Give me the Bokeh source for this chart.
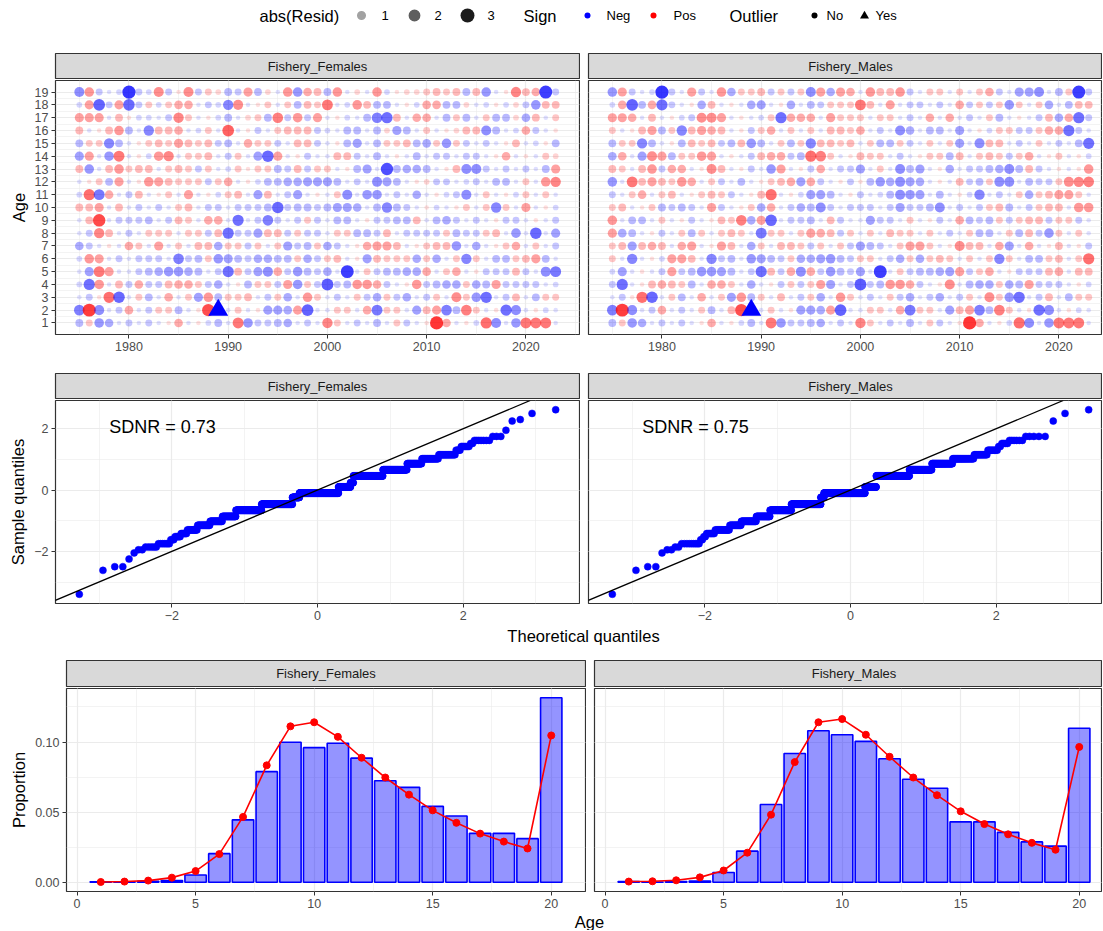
import numpy as np
from statistics import NormalDist
from bokeh.plotting import figure
from bokeh.layouts import column, row
from bokeh.models import (ColumnDataSource, Range1d, FixedTicker, SingleIntervalTicker,
                          Slope, CustomJSTickFormatter, PrintfTickFormatter)
from bokeh.core.properties import value
from bokeh.embed import file_html
from bokeh.resources import INLINE

# ---------------------------------------------------------------- data
PANELS = ["Fishery_Females", "Fishery_Males"]
YEARS = list(range(1975, 2024))
AGES = list(range(1, 20))

# Pearson residuals, one string per age (1..19),
# one character per year (1975..2023).  lowercase = negative, uppercase = positive;
# the letter is the bubble-size class, its magnitude is
# CODE_MAGNITUDE[class] (classes calibrated against the Q-Q panels of the picture).
CODE_MAGNITUDE = [0.10, 0.24, 0.46, 0.66, 0.86, 1.02, 1.15, 1.30, 1.42, 1.52,
                  1.62, 1.75, 1.86, 1.95, 2.05, 2.15, 2.25, 2.30, 2.50, 2.62,
                  2.70, 2.80, 2.90, 3.00, 3.20, 3.40]
FEMALE_RESID = [
    "dCgeacacaAEaAbdaKgccdeaca" + "ICacadaCcaATEaAbLhagKKKa",  # 1
    "jShacEacCCdaAQzaCaAffeFna" + "aCCaEkCCafDFjdJCaAlhaAba",  # 2
    "acALmaCdaEaCfGdCCDacCeaGC" + "acaCceCceacCaHCglacDadCC",  # 3
    "blGaDcEccDEECceaAdCCcFgCc" + "ocdGGEcaAGcdeeCedFccccab",  # 4
    "afKFaacdeggedaclDcfhEcgdc" + "easaCcddeeEaCEaAcccDcahk",  # 5
    "bGFacacccajcdCgfdceeddCec" + "CDaAfDCCCeCeaCiCaddCDFda",  # 6
    "ecaAaECaFaCaDDeCCcCaCfcdC" + "ecaAEFFDaACDDgaeaACEaCac",  # 7
    "acIDacaCCCaCCcDlccfDDcCcc" + "aCCddcDaccccCdccCDagamaf",  # 8
    "aDRacccdacDCaEEalacjcacCc" + "addaAccddDadecacaAccaAac",  # 9
    "DDFaDacacaCDaccacccdmcddc" + "dffeadidcaAbaACaCiCaFaAb",  # 10
    "bLkEacDaACaFaAbCDafDacfaA" + "aChaggacaeaAbchaCaAbCaCa",  # 11
    "aACdFaAGFDCCCcCEaAbddeeff" + "fdacahfdaABccabcaddaCaGI",  # 12
    "DgaDGCDDaCDCcCabCACCdcDcC" + "CaAdfaqdeedaADhhcacacadF",  # 13
    "fFagKaAbGIaCCDacCafmFaAca" + "aDDcadaAadaccaccaAEaAaCB",  # 14
    "dCCidaACDCFDCDcdaECCcaDDc" + "aAdfadCCDdeCgCcacaADabAd",  # 15
    "DaADGdaiDDEabCaNaAcaCDDDc" + "baddadBfdaCaABDDhdabEcaA",  # 16
    "FFFaDAbbacICaAbdaBCdJcGcF" + "aAbadjlDaEEadCdaCddBeDaC",  # 17
    "bFncFmcCbCEEacbiHaACaCdDC" + "KabGDddaAbEEddBabAbBcgDD",  # 18
    "hGcabtcbHcAHcCBdcFdBaGgED" + "dGaBaGbABBCDCDdDgaAIDEsc",  # 19
]
MALE_RESID = [
    "dCgeacacaAEaAbdaKgccdeaca" + "ICacadaCcaATEaAbLhagKKKa",  # 1
    "jShacEacaCdaDQzaCaAffeFna" + "aCCaEkCCafDFjdJCaAlhaAba",  # 2
    "acALmaCdaEaCfGdCaDacCeaGC" + "acaCceaceacCaHCglacDadCC",  # 3
    "claADEDCdaEECaeaAcCcCFfac" + "ocdGGEcaAHadeeCedFcccaAb",  # 4
    "bfaAacFcdggfdaclDcEhEcgdc" + "fasaCcddefFcCEaAcccDEaDD",  # 5
    "CaiaAbFFDaicdagfdcCeefgdc" + "CCaceCeCDCaCaCiCaddCDaCL",  # 6
    "CDfDEDaEFaAFDaeCaDDCcCaCc" + "fdcaCFFCaAHDDaEfaEaADaAc",  # 7
    "FedaAcaCdCaCDCakCCaCFEDcC" + "aCaDCCaCacaCddaCdDcgCaCa",  # 8
    "GaddaCaAcaADCJeFmaccdaDca" + "afccaCaAcaEdcdCcCDDcCCca",  # 9
    "CDaACdcdcaFcaACeEacedhcac" + "ccacfccdhacacCDdacCDDaGG",  # 10
    "caCEaCDaACDCcaADLaAbffdaA" + "cabdhgfadaAbiacaCeCDFFCa",  # 11
    "gaKDFDCGEaCcadaACDEfEcaAc" + "AdgehfeaAaDcdChhadccCHIJ",  # 12
    "DCaDGcEEaAHDaAcagFaAcEacc" + "faCahdfaAeaccdehdDcaAaAG",  # 13
    "eEafHFdCCGFaAacDEEcdLJCaA" + "DCCacaACCdDaCDCcCEaACaAb",  # 14
    "dCCidaAdDCDcdDgdaCdCiDDCD" + "aCddCcaCaCfahDDacaCacadl",  # 15
    "CaADFdCiDFEDaAcCEaCaCaDDC" + "EacaheaddafaAbCCccCEElca",  # 16
    "FFEaDaAbcHHFaAabClEEEaFCC" + "CaCCacaEaEacaCdaAacDeElc",  # 17
    "bEndElcaAeDaAaefaAeadcCCC" + "KDaFaccacaEcCcCgCaCeadDD",  # 18
    "gFcabtcaFcaGeCCDcCcChFeFE" + "aGDDGcaCCaCaCEcaffhadCsc",  # 19
]
SDNR = [0.73, 0.75]

COMP_AGES = list(range(1, 21))
FEMALE_OBS = [0.0003, 0.0003, 0.0007, 0.0012, 0.0052, 0.0204, 0.0445, 0.0789, 0.0998, 0.0960,
              0.0991, 0.0885, 0.0724, 0.0677, 0.0541, 0.0473, 0.0349, 0.0349, 0.0311, 0.1316]
FEMALE_EXP = [0.0002, 0.0005, 0.0012, 0.0033, 0.0080, 0.0201, 0.0466, 0.0834, 0.1112, 0.1141,
              0.1037, 0.0888, 0.0747, 0.0625, 0.0513, 0.0424, 0.0347, 0.0290, 0.0241, 0.1047]
MALE_OBS = [0.0005, 0.0002, 0.0005, 0.0009, 0.0070, 0.0222, 0.0555, 0.0918, 0.1080, 0.1052,
            0.1005, 0.0881, 0.0735, 0.0670, 0.0431, 0.0431, 0.0356, 0.0288, 0.0258, 0.1098]
MALE_EXP = [0.0005, 0.0007, 0.0014, 0.0035, 0.0084, 0.0211, 0.0482, 0.0857, 0.1141, 0.1164,
            0.1052, 0.0895, 0.0747, 0.0621, 0.0506, 0.0415, 0.0342, 0.0281, 0.0232, 0.0965]

LEGEND_SIZES = [1, 2, 3]

# ---------------------------------------------------------------- style / geometry
FONT = "Liberation Sans"
NEG, POS = "#0000FF", "#FF0000"
BORDER = "#333333"
GRID = "#EBEBEB"
STRIP_FILL = "#D9D9D9"
BUBBLE_K = 2.45
TOTAL_W = 1102

FW_F, FW_M = 524, 513          # rows 1-2 frame widths
FW_F3, FW_M3 = 519, 507        # row 3 frame widths
LEFT12, LEFT3, GAP = 55, 66, 8


def decode(rows):
    xs, ys, vs = [], [], []
    for age, s in zip(AGES, rows):
        s = (s + "a" * len(YEARS))[:len(YEARS)]
        for yr, ch in zip(YEARS, s):
            mag = CODE_MAGNITUDE[ord(ch.lower()) - 97]
            xs.append(yr)
            ys.append(age)
            vs.append(-mag if ch.islower() else mag)
    return np.array(xs, float), np.array(ys, float), np.array(vs, float)


RES = [decode(FEMALE_RESID), decode(MALE_RESID)]
AMAX = max(np.abs(r[2]).max() for r in RES)


def size_for(a):
    return BUBBLE_K * (1 + 5 * np.sqrt(np.asarray(a, float) / AMAX))


def alpha_for(a):
    return np.clip(0.1 + 0.9 * np.asarray(a, float) / AMAX, 0, 1)


def expand(lo, hi, f=0.05):
    r = hi - lo
    return lo - f * r, hi + f * r


def style_axes(p):
    for ax in p.axis:
        ax.axis_line_color = None
        ax.major_tick_line_color = BORDER
        ax.major_tick_in = 0
        ax.major_tick_out = 4
        ax.minor_tick_line_color = None
        ax.major_label_text_font = FONT
        ax.major_label_text_font_size = "12.5px"
        ax.major_label_text_color = "#4D4D4D"
        ax.major_label_standoff = 3
        ax.axis_label_text_font = FONT
        ax.axis_label_text_font_size = "16.5px"
        ax.axis_label_text_font_style = "normal"
        ax.axis_label_text_color = "black"
        ax.axis_label_standoff = 4


def make_fig(fw, fh, left, xr, yr, top, bottom, xt, yt, yaxis=True, ylabel=None):
    p = figure(frame_width=fw, frame_height=fh, x_range=xr, y_range=yr,
               min_border_left=left, min_border_right=1, min_border_top=top,
               min_border_bottom=bottom, x_axis_location="below",
               y_axis_location="left" if yaxis else None,
               output_backend="svg", toolbar_location=None)
    p.outline_line_color = BORDER
    p.outline_line_width = 1.2
    p.background_fill_color = "white"
    p.border_fill_color = "white"
    p.xgrid.ticker = xt
    p.ygrid.ticker = yt
    p.xaxis.ticker = xt
    if yaxis:
        p.yaxis.ticker = yt
        if ylabel:
            p.yaxis.axis_label = ylabel
    for g in p.grid:
        g.grid_line_color = GRID
        g.grid_line_width = 1.2
        g.minor_grid_line_color = GRID
        g.minor_grid_line_width = 0.6
    style_axes(p)
    return p


def strip_fig(label, fw, left, top, fh, text_frac):
    s = figure(frame_width=fw, frame_height=fh, x_range=Range1d(0, 1), y_range=Range1d(0, 1),
               min_border_left=left, min_border_right=1, min_border_top=top, min_border_bottom=1,
               x_axis_location=None, y_axis_location=None,
               output_backend="svg", toolbar_location=None)
    s.xgrid.visible = False
    s.ygrid.visible = False
    s.background_fill_color = STRIP_FILL
    s.border_fill_color = "white"
    s.outline_line_color = BORDER
    s.outline_line_width = 1.2
    s.text(x=[text_frac], y=[0.5], text=[label], text_align="center", text_baseline="middle",
           text_font=value(FONT), text_font_size=value("13px"), text_color="#1A1A1A")
    return s


def text_fig(txt, h, cx, cy, size):
    f = figure(frame_width=TOTAL_W, frame_height=h, x_range=Range1d(0, TOTAL_W),
               y_range=Range1d(h, 0), min_border_left=0, min_border_right=0,
               min_border_top=0, min_border_bottom=0,
               x_axis_location=None, y_axis_location=None,
               output_backend="svg", toolbar_location=None)
    f.xgrid.visible = False
    f.ygrid.visible = False
    f.outline_line_color = None
    f.text(x=[cx], y=[cy], text=[txt], text_align="center", text_baseline="middle",
           text_font=value(FONT), text_font_size=value(size), text_color="black")
    return f


# ---------------------------------------------------------------- legend
LEG_H = 42
leg = figure(frame_width=TOTAL_W, frame_height=LEG_H, x_range=Range1d(0, TOTAL_W),
             y_range=Range1d(LEG_H, 0), min_border_left=0, min_border_right=0,
             min_border_top=0, min_border_bottom=0,
             x_axis_location=None, y_axis_location=None,
             output_backend="svg", toolbar_location=None)
leg.xgrid.visible = False
leg.ygrid.visible = False
leg.outline_line_color = None
LY = 15
leg_titles = dict(x=[259, 523, 729], y=[LY] * 3, t=["abs(Resid)", "Sign", "Outlier"])
leg.text(x="x", y="y", text="t", source=ColumnDataSource(leg_titles), text_align="left",
         text_baseline="middle", text_font=value(FONT), text_font_size=value("16.5px"),
         text_color="black")
leg.scatter(x=[361, 414, 467], y=[LY] * 3, size=size_for(LEGEND_SIZES), fill_color="black",
            fill_alpha=alpha_for(LEGEND_SIZES), line_color=None)
leg.scatter(x=[587, 653, 814], y=[LY] * 3, size=6, fill_color=[NEG, POS, "black"],
            line_color=None)
leg.scatter(x=[864], y=[LY + 0.5], marker="triangle", size=9, fill_color="black", line_color=None)
leg_labels = dict(x=[381, 434, 487, 606, 673, 826, 875], y=[LY] * 7,
                  t=[str(v) for v in LEGEND_SIZES] + ["Neg", "Pos", "No", "Yes"])
leg.text(x="x", y="y", text="t", source=ColumnDataSource(leg_labels), text_align="left",
         text_baseline="middle", text_font=value(FONT), text_font_size=value("13px"),
         text_color="black")

# ---------------------------------------------------------------- row 1: bubbles
bx0, bx1 = expand(min(YEARS), max(YEARS))
by0, by1 = expand(min(AGES), max(AGES))
px_per_year = FW_F / (bx1 - bx0)
age_ticker = FixedTicker(ticks=AGES, minor_ticks=[a + 0.5 for a in AGES[:-1]])
year_ticker = SingleIntervalTicker(interval=10, num_minor_ticks=2)

row1 = []
for i, (name, (x, y, v)) in enumerate(zip(PANELS, RES)):
    fw = FW_F if i == 0 else FW_M
    left = LEFT12 if i == 0 else GAP
    xr = Range1d(bx0, bx0 + fw / px_per_year)
    p = make_fig(fw, 254, left, xr, Range1d(by0, by1), 1, 27, year_ticker, age_ticker,
                 yaxis=(i == 0), ylabel="Age")
    a = np.abs(v)
    out = a > 3
    col = np.where(v < 0, NEG, POS)
    src = ColumnDataSource(dict(x=x[~out], y=y[~out], s=size_for(a[~out]),
                                al=alpha_for(a[~out]), c=col[~out]))
    p.scatter("x", "y", size="s", fill_color="c", fill_alpha="al", line_color=None, source=src)
    srco = ColumnDataSource(dict(x=x[out], y=y[out], s=size_for(a[out]) * 1.35,
                                 al=alpha_for(a[out]), c=col[out]))
    p.scatter("x", "y", size="s", marker="triangle", fill_color="c", fill_alpha="al",
              line_color=None, source=srco)
    frac = 0.5 * FW_F / fw
    row1.append(column(strip_fig(name, fw, left, 11, 25, frac), p))

# ---------------------------------------------------------------- row 2: QQ
nd = NormalDist()
qq = []
for (_, _, v) in RES:
    sv = np.sort(v)
    n = len(sv)
    theo = np.array([nd.inv_cdf((k - 0.5) / n) for k in range(1, n + 1)])
    qq.append((theo, sv))
tmax = max(np.abs(t).max() for t, _ in qq)
qx0, qx1 = expand(-tmax, tmax)
qy0, qy1 = expand(min(s.min() for _, s in qq), max(s.max() for _, s in qq))
px_per_q = FW_F / (qx1 - qx0)
minus_fmt = CustomJSTickFormatter(code="return (tick < 0 ? '\\u2212' : '') + Math.abs(tick);")

row2 = []
for i, (name, (theo, sv)) in enumerate(zip(PANELS, qq)):
    fw = FW_F if i == 0 else FW_M
    left = LEFT12 if i == 0 else GAP
    xt = SingleIntervalTicker(interval=2, num_minor_ticks=2)
    yt = SingleIntervalTicker(interval=2, num_minor_ticks=2)
    p = make_fig(fw, 203, left, Range1d(qx0, qx0 + fw / px_per_q), Range1d(qy0, qy1), 1, 23,
                 xt, yt, yaxis=(i == 0), ylabel="Sample quantiles")
    p.xaxis.formatter = minus_fmt
    if i == 0:
        p.yaxis.formatter = minus_fmt
    p.add_layout(Slope(gradient=1, y_intercept=0, line_color="black", line_width=1.3))
    p.scatter(theo, sv, size=7, fill_color=NEG, line_color=NEG, line_width=0.5)
    p.text(x=[-2.86], y=[2.07], text=["SDNR = %.2f" % SDNR[i]], text_align="left",
           text_baseline="middle", text_font=value(FONT), text_font_size=value("18px"),
           text_color="black")
    frac = 0.5 * FW_F / fw
    row2.append(column(strip_fig(name, fw, left, 12, 25, frac), p))

xlab2 = text_fig("Theoretical quantiles", 22, (LEFT12 + LEFT12 + FW_F + GAP + FW_F) / 2, 9.5,
                 "16.5px")

# ---------------------------------------------------------------- row 3: composition
cx0, cx1 = expand(min(COMP_AGES) - 0.45, max(COMP_AGES) + 0.45)
cy0, cy1 = expand(0, max(max(FEMALE_OBS), max(MALE_OBS), max(FEMALE_EXP), max(MALE_EXP)))
px_per_age = FW_F3 / (cx1 - cx0)
row3 = []
for i, (name, obs, exp) in enumerate(zip(PANELS, [FEMALE_OBS, MALE_OBS], [FEMALE_EXP, MALE_EXP])):
    fw = FW_F3 if i == 0 else FW_M3
    left = LEFT3 if i == 0 else GAP
    xt = SingleIntervalTicker(interval=5, num_minor_ticks=2)
    yt = SingleIntervalTicker(interval=0.05, num_minor_ticks=2)
    p = make_fig(fw, 203, left, Range1d(cx0, cx0 + fw / px_per_age), Range1d(cy0, cy1), 1, 21,
                 xt, yt, yaxis=(i == 0), ylabel="Proportion")
    if i == 0:
        p.yaxis.formatter = PrintfTickFormatter(format="%.2f")
    p.vbar(x=COMP_AGES, top=obs, width=0.9, fill_color=NEG, fill_alpha=0.42,
           line_color=NEG, line_width=1.6)
    p.line(COMP_AGES, exp, line_color=POS, line_width=1.6)
    p.scatter(COMP_AGES, exp, size=7, fill_color=POS, line_color=POS)
    frac = 0.5 * FW_F3 / fw
    row3.append(column(strip_fig(name, fw, left, 12, 26, frac), p))

xlab3 = text_fig("Age", 18, (LEFT3 + LEFT3 + FW_F3 + GAP + FW_F3) / 2, 9, "16.5px")

layout = column(leg, row(*row1), row(*row2), xlab2, row(*row3), xlab3)

with open("out.html", "w") as fh:
    fh.write(file_html(layout, INLINE, title="Fishery residuals"))
